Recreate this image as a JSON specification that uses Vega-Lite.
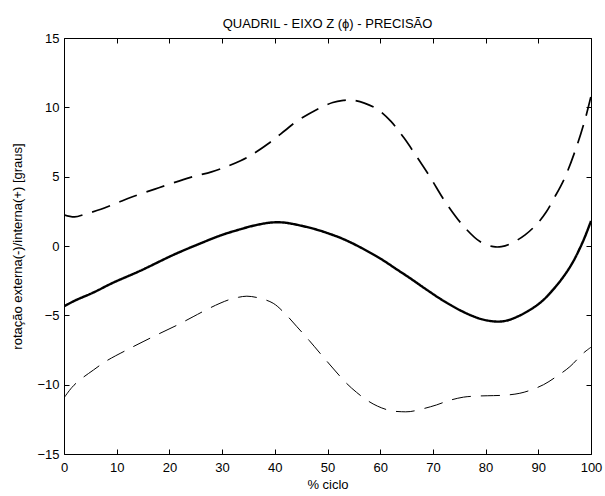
{
  "$schema": "https://vega.github.io/schema/vega-lite/v6.json",
  "width": 527,
  "height": 416,
  "autosize": {"type": "none"},
  "padding": {"left": 64, "top": 38, "right": 14, "bottom": 42},
  "background": "white",
  "title": {
    "text": "QUADRIL - EIXO Z (ϕ) - PRECISÃO",
    "font": "Liberation Sans",
    "fontSize": 13,
    "fontWeight": "normal",
    "color": "black",
    "anchor": "middle",
    "offset": 1
  },
  "config": {
    "view": {"stroke": "black", "strokeWidth": 1},
    "axis": {
      "labelFont": "Liberation Sans",
      "labelFontSize": 13,
      "labelColor": "black",
      "titleFont": "Liberation Sans",
      "titleFontSize": 13,
      "titleFontWeight": "normal",
      "titleColor": "black",
      "domain": false,
      "grid": false,
      "ticks": true,
      "tickColor": "black",
      "tickSize": 5,
      "tickWidth": 1,
      "offset": -5,
      "zindex": 1
    }
  },
  "datasets": {
    "curvas": [
      {"ciclo": 0, "graus": 2.25, "serie": "superior"},
      {"ciclo": 2, "graus": 2.1, "serie": "superior"},
      {"ciclo": 4, "graus": 2.3, "serie": "superior"},
      {"ciclo": 7, "graus": 2.65, "serie": "superior"},
      {"ciclo": 10, "graus": 3.1, "serie": "superior"},
      {"ciclo": 13, "graus": 3.55, "serie": "superior"},
      {"ciclo": 18, "graus": 4.2, "serie": "superior"},
      {"ciclo": 24, "graus": 4.95, "serie": "superior"},
      {"ciclo": 28, "graus": 5.35, "serie": "superior"},
      {"ciclo": 31, "graus": 5.75, "serie": "superior"},
      {"ciclo": 33.5, "graus": 6.15, "serie": "superior"},
      {"ciclo": 35.5, "graus": 6.55, "serie": "superior"},
      {"ciclo": 39, "graus": 7.45, "serie": "superior"},
      {"ciclo": 42, "graus": 8.35, "serie": "superior"},
      {"ciclo": 44, "graus": 8.95, "serie": "superior"},
      {"ciclo": 48, "graus": 9.85, "serie": "superior"},
      {"ciclo": 51, "graus": 10.35, "serie": "superior"},
      {"ciclo": 53, "graus": 10.5, "serie": "superior"},
      {"ciclo": 54.5, "graus": 10.53, "serie": "superior"},
      {"ciclo": 57, "graus": 10.3, "serie": "superior"},
      {"ciclo": 59.5, "graus": 9.85, "serie": "superior"},
      {"ciclo": 62, "graus": 9.0, "serie": "superior"},
      {"ciclo": 64.5, "graus": 7.8, "serie": "superior"},
      {"ciclo": 67, "graus": 6.4, "serie": "superior"},
      {"ciclo": 69.5, "graus": 4.95, "serie": "superior"},
      {"ciclo": 72.5, "graus": 3.1, "serie": "superior"},
      {"ciclo": 76, "graus": 1.35, "serie": "superior"},
      {"ciclo": 79, "graus": 0.3, "serie": "superior"},
      {"ciclo": 81.5, "graus": -0.05, "serie": "superior"},
      {"ciclo": 83, "graus": -0.05, "serie": "superior"},
      {"ciclo": 84.5, "graus": 0.12, "serie": "superior"},
      {"ciclo": 87.5, "graus": 0.8, "serie": "superior"},
      {"ciclo": 90, "graus": 1.7, "serie": "superior"},
      {"ciclo": 91.5, "graus": 2.45, "serie": "superior"},
      {"ciclo": 93, "graus": 3.45, "serie": "superior"},
      {"ciclo": 95, "graus": 4.9, "serie": "superior"},
      {"ciclo": 97.3, "graus": 7.2, "serie": "superior"},
      {"ciclo": 99, "graus": 9.3, "serie": "superior"},
      {"ciclo": 100, "graus": 10.8, "serie": "superior"},

      {"ciclo": 0, "graus": -4.35, "serie": "media"},
      {"ciclo": 2, "graus": -3.95, "serie": "media"},
      {"ciclo": 5.6, "graus": -3.35, "serie": "media"},
      {"ciclo": 9.3, "graus": -2.65, "serie": "media"},
      {"ciclo": 14.4, "graus": -1.8, "serie": "media"},
      {"ciclo": 20.7, "graus": -0.65, "serie": "media"},
      {"ciclo": 25, "graus": 0.05, "serie": "media"},
      {"ciclo": 30, "graus": 0.8, "serie": "media"},
      {"ciclo": 33.4, "graus": 1.2, "serie": "media"},
      {"ciclo": 36, "graus": 1.47, "serie": "media"},
      {"ciclo": 39, "graus": 1.68, "serie": "media"},
      {"ciclo": 41, "graus": 1.71, "serie": "media"},
      {"ciclo": 43, "graus": 1.62, "serie": "media"},
      {"ciclo": 47.3, "graus": 1.25, "serie": "media"},
      {"ciclo": 50, "graus": 0.93, "serie": "media"},
      {"ciclo": 53, "graus": 0.5, "serie": "media"},
      {"ciclo": 56, "graus": -0.05, "serie": "media"},
      {"ciclo": 60, "graus": -0.9, "serie": "media"},
      {"ciclo": 63, "graus": -1.65, "serie": "media"},
      {"ciclo": 65.7, "graus": -2.33, "serie": "media"},
      {"ciclo": 69, "graus": -3.2, "serie": "media"},
      {"ciclo": 72, "graus": -3.95, "serie": "media"},
      {"ciclo": 75.5, "graus": -4.7, "serie": "media"},
      {"ciclo": 79, "graus": -5.25, "serie": "media"},
      {"ciclo": 82, "graus": -5.45, "serie": "media"},
      {"ciclo": 84, "graus": -5.38, "serie": "media"},
      {"ciclo": 86, "graus": -5.1, "serie": "media"},
      {"ciclo": 88, "graus": -4.7, "serie": "media"},
      {"ciclo": 90.5, "graus": -4.05, "serie": "media"},
      {"ciclo": 92.8, "graus": -3.15, "serie": "media"},
      {"ciclo": 94.7, "graus": -2.25, "serie": "media"},
      {"ciclo": 96.5, "graus": -1.2, "serie": "media"},
      {"ciclo": 98.5, "graus": 0.35, "serie": "media"},
      {"ciclo": 100, "graus": 1.8, "serie": "media"},

      {"ciclo": 0, "graus": -10.95, "serie": "inferior"},
      {"ciclo": 1.5, "graus": -10.2, "serie": "inferior"},
      {"ciclo": 3, "graus": -9.66, "serie": "inferior"},
      {"ciclo": 5.6, "graus": -8.94, "serie": "inferior"},
      {"ciclo": 8, "graus": -8.3, "serie": "inferior"},
      {"ciclo": 11.9, "graus": -7.5, "serie": "inferior"},
      {"ciclo": 15, "graus": -6.9, "serie": "inferior"},
      {"ciclo": 18.2, "graus": -6.3, "serie": "inferior"},
      {"ciclo": 21.5, "graus": -5.7, "serie": "inferior"},
      {"ciclo": 24.5, "graus": -5.1, "serie": "inferior"},
      {"ciclo": 27, "graus": -4.6, "serie": "inferior"},
      {"ciclo": 29.6, "graus": -4.13, "serie": "inferior"},
      {"ciclo": 31.5, "graus": -3.85, "serie": "inferior"},
      {"ciclo": 33.1, "graus": -3.7, "serie": "inferior"},
      {"ciclo": 34.7, "graus": -3.62, "serie": "inferior"},
      {"ciclo": 37, "graus": -3.75, "serie": "inferior"},
      {"ciclo": 39.7, "graus": -4.13, "serie": "inferior"},
      {"ciclo": 42, "graus": -4.9, "serie": "inferior"},
      {"ciclo": 44.2, "graus": -5.82, "serie": "inferior"},
      {"ciclo": 46.5, "graus": -6.8, "serie": "inferior"},
      {"ciclo": 48.6, "graus": -7.74, "serie": "inferior"},
      {"ciclo": 51, "graus": -8.8, "serie": "inferior"},
      {"ciclo": 53.6, "graus": -9.9, "serie": "inferior"},
      {"ciclo": 55.5, "graus": -10.55, "serie": "inferior"},
      {"ciclo": 57.4, "graus": -11.1, "serie": "inferior"},
      {"ciclo": 59.5, "graus": -11.55, "serie": "inferior"},
      {"ciclo": 61.9, "graus": -11.87, "serie": "inferior"},
      {"ciclo": 64, "graus": -11.95, "serie": "inferior"},
      {"ciclo": 65.7, "graus": -11.94, "serie": "inferior"},
      {"ciclo": 68, "graus": -11.75, "serie": "inferior"},
      {"ciclo": 70.7, "graus": -11.46, "serie": "inferior"},
      {"ciclo": 73, "graus": -11.15, "serie": "inferior"},
      {"ciclo": 75.8, "graus": -10.9, "serie": "inferior"},
      {"ciclo": 78.5, "graus": -10.82, "serie": "inferior"},
      {"ciclo": 81.5, "graus": -10.79, "serie": "inferior"},
      {"ciclo": 84, "graus": -10.75, "serie": "inferior"},
      {"ciclo": 86.5, "graus": -10.62, "serie": "inferior"},
      {"ciclo": 88.5, "graus": -10.4, "serie": "inferior"},
      {"ciclo": 91, "graus": -10.0, "serie": "inferior"},
      {"ciclo": 93.5, "graus": -9.4, "serie": "inferior"},
      {"ciclo": 96, "graus": -8.7, "serie": "inferior"},
      {"ciclo": 98.5, "graus": -7.74, "serie": "inferior"},
      {"ciclo": 100, "graus": -7.3, "serie": "inferior"}
    ]
  },
  "data": {"name": "curvas"},
  "layer": [
    {
      "mark": {"type": "line", "interpolate": "catmull-rom", "clip": true},
      "encoding": {
        "x": {
          "field": "ciclo",
          "type": "quantitative",
          "scale": {"domain": [0, 100], "nice": false, "zero": false},
          "axis": {"orient": "bottom", "title": "% ciclo", "values": [0, 10, 20, 30, 40, 50, 60, 70, 80, 90, 100], "labelPadding": 7, "titlePadding": 4, "labelFlush": false, "labelOverlap": false}
        },
        "y": {
          "field": "graus",
          "type": "quantitative",
          "scale": {"domain": [-15, 15], "nice": false, "zero": false},
          "axis": {"orient": "left", "title": "rotação externa(-)/interna(+) [graus]", "values": [-15, -10, -5, 0, 5, 10, 15], "labelPadding": 5, "titlePadding": 12, "labelFlush": false, "labelOverlap": false}
        },
        "detail": {"field": "serie"},
        "color": {"value": "black"},
        "strokeWidth": {
          "field": "serie",
          "type": "nominal",
          "scale": {"domain": ["media", "superior", "inferior"], "range": [2.4, 1, 1]},
          "legend": null
        },
        "strokeDash": {
          "field": "serie",
          "type": "nominal",
          "scale": {"domain": ["media", "superior", "inferior"], "range": [[1, 0], [19, 10], [19, 10]]},
          "legend": null
        }
      }
    },
    {
      "mark": {"type": "point", "opacity": 0},
      "encoding": {
        "x": {
          "field": "ciclo",
          "type": "quantitative",
          "axis": {"orient": "top", "title": null, "labels": false, "values": [0, 10, 20, 30, 40, 50, 60, 70, 80, 90, 100]}
        },
        "y": {
          "field": "graus",
          "type": "quantitative",
          "axis": {"orient": "right", "title": null, "labels": false, "values": [-15, -10, -5, 0, 5, 10, 15]}
        }
      }
    }
  ],
  "resolve": {"axis": {"x": "independent", "y": "independent"}}
}
